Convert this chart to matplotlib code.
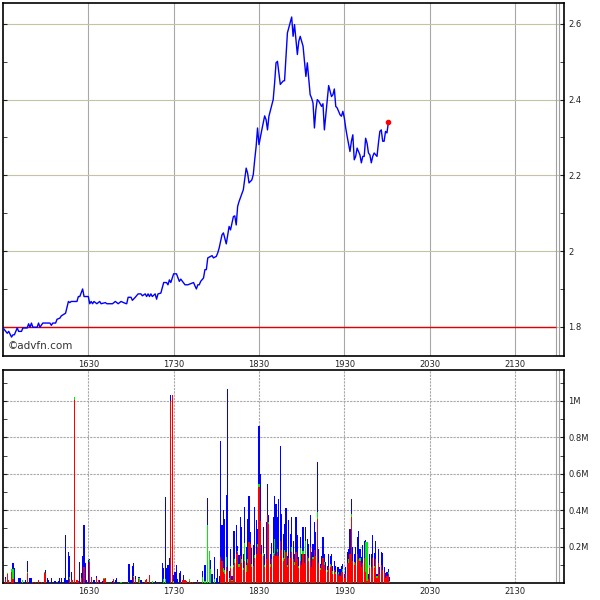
import numpy as np
import matplotlib
matplotlib.use('Agg')
import matplotlib.pyplot as plt

# minutes after 15:30
tick_min = [60, 120, 180, 240, 300, 360]
tick_lab = ['1630', '1730', '1830', '1930', '2030', '2130']

price_min = [0, 3, 4, 6, 7, 8, 10, 11, 13, 14, 17, 18, 19, 20, 21, 24, 25, 26, 28, 33,
			 34, 35, 37, 38, 40, 41, 44, 46, 47, 48, 52, 53, 54, 56, 57, 60, 61, 62, 63, 64,
			 66, 68, 69, 72, 73, 77, 79, 81, 83, 86, 87, 88, 90, 91, 93, 95, 97, 98, 100, 101,
			 102, 103, 104, 105, 107, 108, 109, 111, 113, 115, 116, 117, 118, 120, 122, 124, 125, 128, 130, 132,
			 134, 135, 136, 137, 138, 139, 141, 142, 143, 144, 147, 148, 150, 151, 152, 154, 155, 157, 159, 160,
			 162, 163, 164, 165, 166, 169, 171, 172, 173, 175, 176, 177, 178, 179, 180, 182, 184, 185, 186, 187,
			 190, 191, 192, 193, 195, 197, 198, 200, 203, 204, 205, 207, 208, 209, 211, 213, 214, 216, 217, 218,
			 219, 220, 221, 222, 224, 225, 226, 228, 229, 231, 232, 233, 234, 235, 237, 238, 239, 240, 241, 242,
			 244, 245, 246, 247, 248, 249, 251, 252, 253, 254, 255, 256, 257, 258, 259, 260, 261, 263, 264, 265,
			 266, 267, 268, 269, 270, 271]
price_val = [1.797, 1.783, 1.788, 1.773, 1.779, 1.779, 1.797, 1.788, 1.788, 1.797, 1.797, 1.808, 1.799, 1.810, 1.799, 1.799, 1.810, 1.799, 1.810, 1.810,
			 1.804, 1.810, 1.810, 1.820, 1.823, 1.829, 1.836, 1.867, 1.864, 1.867, 1.867, 1.880, 1.880, 1.900, 1.880, 1.880, 1.861, 1.867, 1.861, 1.867,
			 1.861, 1.867, 1.861, 1.864, 1.861, 1.861, 1.867, 1.861, 1.867, 1.862, 1.861, 1.878, 1.878, 1.870, 1.878, 1.887, 1.887, 1.882, 1.887, 1.880,
			 1.887, 1.880, 1.887, 1.880, 1.887, 1.873, 1.887, 1.889, 1.917, 1.917, 1.911, 1.924, 1.917, 1.940, 1.940, 1.920, 1.926, 1.911, 1.911, 1.914,
			 1.917, 1.908, 1.900, 1.911, 1.911, 1.920, 1.929, 1.951, 1.951, 1.982, 1.988, 1.982, 1.986, 1.995, 2.008, 2.043, 2.048, 2.019, 2.065, 2.056,
			 2.091, 2.093, 2.069, 2.118, 2.131, 2.162, 2.219, 2.206, 2.180, 2.188, 2.202, 2.241, 2.276, 2.325, 2.281, 2.320, 2.357, 2.347, 2.320, 2.356,
			 2.400, 2.444, 2.497, 2.501, 2.440, 2.449, 2.450, 2.576, 2.618, 2.567, 2.598, 2.519, 2.554, 2.567, 2.541, 2.461, 2.497, 2.413, 2.404, 2.391,
			 2.325, 2.373, 2.400, 2.396, 2.382, 2.389, 2.320, 2.400, 2.437, 2.408, 2.413, 2.428, 2.382, 2.378, 2.360, 2.356, 2.369, 2.352, 2.325, 2.303,
			 2.263, 2.290, 2.307, 2.241, 2.250, 2.272, 2.254, 2.233, 2.250, 2.250, 2.298, 2.285, 2.259, 2.254, 2.233, 2.250, 2.259, 2.250, 2.285, 2.316,
			 2.320, 2.290, 2.290, 2.316, 2.312, 2.340]

prev_close = 1.8

# volume per minute, thousands of shares
vol_min = [2, 3, 4, 6, 7, 8, 11, 12, 14, 16, 17, 19, 20, 21, 23, 25, 27, 29, 30, 31,
		   32, 34, 36, 37, 39, 40, 41, 43, 44, 45, 46, 47, 48, 49, 50, 52, 53, 54, 55, 56,
		   57, 58, 59, 60, 61, 62, 64, 66, 67, 68, 70, 71, 72, 77, 78, 79, 80, 83, 88, 89,
		   90, 91, 92, 93, 95, 96, 97, 99, 100, 101, 103, 105, 107, 110, 112, 113, 114, 115, 116, 117,
		   118, 119, 120, 121, 122, 123, 124, 125, 126, 127, 128, 129, 131, 132, 133, 136, 137, 140, 142, 144,
		   145, 146, 147, 149, 150, 151, 152, 153, 154, 155, 156, 157, 158, 159, 160, 161, 162, 163, 164, 165,
		   166, 167, 168, 169, 170, 171, 172, 173, 174, 175, 176, 177, 178, 179, 180, 181, 182, 183, 184, 185,
		   186, 187, 188, 189, 190, 191, 192, 193, 194, 195, 196, 197, 198, 199, 200, 201, 202, 203, 204, 205,
		   206, 207, 208, 209, 210, 211, 212, 213, 214, 215, 216, 217, 218, 219, 220, 221, 222, 223, 224, 225,
		   226, 227, 228, 229, 230, 231, 232, 233, 234, 235, 236, 237, 238, 239, 240, 241, 242, 243, 244, 245,
		   246, 247, 248, 249, 250, 251, 252, 253, 254, 255, 256, 257, 258, 259, 260, 261, 262, 263, 264, 265,
		   266, 267, 268, 269, 270, 271, 272]
vol_total = [35, 53, 16, 77, 112, 80, 30, 30, 16, 18, 123, 26, 30, 7, 5, 18, 7, 60, 70, 30,
			 15, 30, 13, 9, 9, 30, 30, 30, 266, 15, 173, 147, 59, 15, 1020, 16, 9, 114, 57, 147,
			 316, 112, 16, 129, 134, 31, 18, 40, 18, 18, 13, 28, 28, 9, 22, 16, 30, 7, 103, 103,
			 16, 94, 112, 40, 35, 35, 16, 7, 16, 22, 46, 11, 13, 7, 112, 83, 470, 83, 101, 140,
			 1030, 1030, 42, 62, 101, 24, 55, 66, 16, 46, 16, 13, 20, 5, 5, 5, 16, 68, 101, 467,
			 178, 127, 50, 145, 28, 77, 40, 779, 321, 399, 349, 485, 1065, 64, 187, 40, 283, 283, 321, 202,
			 154, 362, 307, 160, 417, 197, 349, 476, 279, 193, 206, 417, 344, 298, 862, 601, 206, 307, 160, 334,
			 546, 371, 160, 219, 362, 476, 435, 362, 463, 751, 380, 270, 325, 411, 151, 344, 270, 362, 233, 160,
			 362, 261, 141, 252, 160, 307, 160, 307, 242, 215, 371, 169, 215, 334, 279, 665, 187, 105, 151, 252,
			 160, 114, 96, 160, 151, 160, 96, 123, 96, 86, 86, 77, 96, 105, 50, 86, 169, 187, 298, 463,
			 197, 160, 197, 252, 288, 187, 141, 206, 233, 237, 224, 50, 160, 160, 266, 163, 233, 50, 187, 86,
			 169, 163, 86, 53, 59, 77, 31]
vol_buy = [0, 53, 0, 77, 75, 0, 0, 0, 16, 0, 60, 0, 0, 0, 0, 0, 0, 60, 0, 0,
		   0, 0, 0, 0, 0, 0, 0, 0, 0, 0, 0, 31, 0, 0, 1020, 0, 0, 0, 0, 0,
		   0, 0, 0, 0, 126, 0, 0, 0, 0, 0, 0, 28, 0, 0, 0, 0, 0, 7, 7, 0,
		   0, 0, 40, 0, 28, 28, 0, 0, 0, 0, 0, 11, 0, 0, 0, 24, 24, 0, 0, 0,
		   0, 0, 13, 0, 0, 0, 0, 0, 0, 0, 0, 0, 20, 0, 0, 0, 0, 31, 10, 316,
		   178, 77, 0, 20, 0, 0, 0, 0, 0, 80, 70, 141, 40, 30, 95, 15, 100, 130, 100, 175,
		   105, 120, 130, 85, 220, 100, 130, 200, 160, 105, 80, 155, 130, 215, 545, 300, 120, 165, 100, 95,
		   300, 334, 105, 80, 165, 240, 100, 185, 130, 200, 150, 135, 180, 100, 100, 120, 90, 200, 80, 115,
		   130, 90, 95, 190, 40, 175, 60, 230, 100, 135, 190, 30, 145, 160, 90, 390, 40, 85, 90, 60,
		   115, 60, 70, 90, 105, 60, 65, 50, 60, 40, 60, 20, 50, 75, 10, 40, 60, 130, 140, 380,
		   60, 115, 50, 120, 90, 140, 40, 100, 60, 224, 224, 20, 100, 30, 100, 95, 60, 40, 80, 40,
		   80, 20, 30, 10, 20, 60, 10]
vol_sell = [22, 50, 16, 58, 20, 0, 0, 0, 0, 0, 55, 0, 0, 7, 5, 18, 7, 55, 55, 0,
			0, 0, 0, 0, 0, 0, 0, 0, 0, 0, 0, 22, 16, 15, 1005, 16, 9, 0, 30, 0,
			86, 0, 0, 0, 117, 31, 0, 28, 18, 0, 0, 22, 28, 0, 22, 0, 0, 0, 0, 0,
			0, 0, 31, 20, 20, 0, 0, 0, 16, 22, 44, 0, 0, 0, 0, 0, 0, 0, 0, 0,
			1000, 1030, 0, 0, 0, 0, 0, 5, 16, 16, 16, 13, 13, 5, 5, 0, 10, 0, 0, 0,
			0, 0, 0, 0, 0, 0, 0, 141, 123, 60, 50, 86, 68, 20, 80, 10, 90, 110, 160, 169,
			90, 151, 110, 70, 120, 60, 110, 224, 215, 90, 96, 140, 160, 197, 527, 343, 160, 150, 90, 130,
			371, 325, 90, 130, 150, 160, 150, 170, 150, 233, 180, 120, 130, 170, 90, 140, 140, 170, 130, 100,
			170, 130, 80, 120, 100, 160, 110, 160, 150, 120, 200, 90, 130, 180, 150, 353, 110, 70, 100, 140,
			100, 70, 60, 90, 90, 100, 50, 70, 50, 50, 50, 40, 60, 60, 30, 50, 110, 110, 160, 362,
			120, 100, 110, 160, 130, 120, 90, 110, 140, 60, 10, 20, 80, 90, 140, 80, 130, 30, 110, 50,
			100, 70, 60, 30, 40, 50, 5]

vol_ticks = [200, 400, 600, 800, 1000]
vol_tick_lab = ['0.2M', '0.4M', '0.6M', '0.8M', '1M']

fig = plt.figure(figsize=(6, 6), dpi=100)
ax1 = fig.add_axes([3 / 600, 1 - 356 / 600, 561 / 600, 353 / 600])
ax2 = fig.add_axes([3 / 600, 17 / 600, 561 / 600, 213 / 600])

xmax = 394.5
session_end = [388.8, 391.0]

# price panel
ax1.plot(price_min, price_val, color='#0000ff', lw=1.0, zorder=3)
ax1.plot(price_min[-1], price_val[-1], 'o', color='#ff0000', ms=3, zorder=4)
ax1.hlines(prev_close, 0, session_end[0], color='#e00000', lw=1.0, zorder=2)
ax1.set_xlim(0, xmax)
ax1.set_ylim(1.723, 2.655)
ax1.set_xticks(tick_min, tick_lab)
ax1.set_yticks([1.8, 2.0, 2.2, 2.4, 2.6], ['1.8', '2', '2.2', '2.4', '2.6'])
ax1.set_yticks([1.9, 2.1, 2.3, 2.5], minor=True)
ax1.grid(axis='x', color='#a8a8a8', lw=0.8)
ax1.grid(axis='y', which='major', color='#c4c4a4', lw=0.8)
ax1.text(0.008, 0.027, '\u00a9advfn.com', transform=ax1.transAxes, fontsize=7.5,
		 color='#333333', va='center', ha='left')

# volume panel
vm = np.array(vol_min)
ax2.bar(vm, np.array(vol_total) * 1000, width=0.8, color='#0000ff', lw=0, zorder=3)
ax2.bar(vm, np.array(vol_buy) * 1000, width=0.8, color='#00ee00', lw=0, zorder=4)
ax2.bar(vm, np.array(vol_sell) * 1000, width=0.8, color='#ff0000', lw=0, zorder=5)
ax2.set_xlim(0, xmax)
ax2.set_ylim(0, 1.17e6)
ax2.set_xticks(tick_min, tick_lab)
ax2.set_yticks([v * 1000 for v in vol_ticks], vol_tick_lab)
ax2.set_yticks([v * 1000 for v in [100, 300, 500, 700, 900, 1100]], minor=True)
ax2.grid(axis='both', which='major', color='#a8a8a8', lw=0.8, ls=(0, (2, 1)))

for ax in (ax1, ax2):
	ax.set_axisbelow(True)
	for v in session_end:
		ax.axvline(v, color='#a0a0a0', lw=0.8, zorder=1)
	ax.yaxis.tick_right()
	ax.tick_params(axis='y', which='both', left=True, right=True, direction='in',
				   length=3, labelsize=6, pad=3, colors='#222222')
	ax.tick_params(axis='x', length=0, labelsize=6, pad=3, colors='#222222')
	for s in ax.spines.values():
		s.set_linewidth(1.2)
		s.set_color('black')

fig.savefig('out.png', dpi=100, facecolor='white')
